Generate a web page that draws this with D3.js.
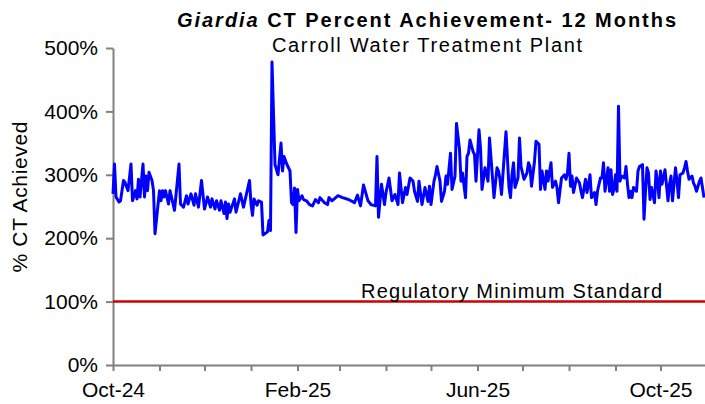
<!DOCTYPE html>
<html>
<head>
<meta charset="utf-8">
<script src="https://cdn.jsdelivr.net/npm/d3@7"></script>
<style>
  body { margin: 0; background: #fff; }
  svg { display: block; font-family: "Liberation Sans", Arial, sans-serif; }
</style>
</head>
<body>
<div id="wrapper"></div>
<script>
// Daily Giardia CT % achievement.
// dayOffsets = days after 1 Oct 2024, pctValues = % CT achieved
const startDate = new Date(2024, 9, 1)

const dayOffsets = [
  0, 1, 2, 4, 5, 7, 8, 10, 12, 13, 15, 16, 17, 18, 20, 21, 22, 23, 24, 26, 27, 28,
  31, 32, 33, 34, 35, 37, 38, 39, 41, 44, 45, 47, 49, 50, 52, 54, 55, 57, 59, 61,
  63, 65, 66, 68, 69, 71, 72, 74, 75, 76, 77, 78, 81, 82, 85, 87, 91, 92, 93, 94,
  96, 97, 99, 100, 103, 104, 105, 106, 108, 110, 112, 113, 114, 116, 118, 119, 120,
  121, 122, 123, 124, 126, 127, 129, 131, 133, 135, 137, 138, 141, 143, 144, 146,
  150, 153, 157, 161, 163, 165, 167, 170, 172, 175, 176, 177, 179, 181, 182, 184,
  186, 188, 190, 191, 193, 195, 196, 198, 200, 201, 203, 204, 206, 208, 210, 211,
  212, 214, 215, 216, 218, 219, 221, 222, 223, 225, 226, 228, 229, 231, 232, 233,
  235, 236, 237, 238, 240, 241, 242, 244, 245, 246, 248, 250, 251, 253, 254, 256,
  257, 258, 259, 262, 264, 265, 266, 267, 268, 270, 271, 272, 274, 276, 277, 278,
  279, 281, 282, 284, 285, 286, 288, 289, 290, 292, 293, 295, 296, 297, 299, 301,
  302, 303, 304, 305, 306, 307, 309, 311, 312, 313, 315, 316, 317, 318, 319, 321,
  322, 323, 324, 325, 326, 327, 328, 330, 331, 332, 333, 334, 335, 336, 337, 338,
  339, 341, 342, 343, 344, 345, 346, 347, 349, 350, 351, 353, 354, 355, 356, 357,
  358, 359, 361, 362, 363, 364, 365, 366, 368, 370, 371, 372, 373, 375, 376, 377,
  378, 380, 381, 382, 383, 384, 386, 387, 388, 389, 391, 392, 394
]

const pctValues = [
  270, 317, 265, 257, 259, 291, 288, 275, 317, 259, 275, 262, 293, 265, 317, 265, 298, 275, 304, 291, 275, 207,
  275, 259, 275, 265, 275, 254, 275, 265, 244, 317, 254, 249, 267, 254, 270, 252, 270, 249, 291, 246,
  265, 249, 262, 246, 259, 244, 259, 239, 257, 231, 254, 241, 262, 241, 270, 249, 291, 254, 236, 262,
  252, 259, 257, 205, 210, 228, 212, 478, 316, 300, 350, 306, 329, 316, 306, 256, 253,
  279, 209, 277, 259, 267, 261, 259, 253, 251, 261, 256, 264, 256, 253, 264, 259,
  267, 264, 261, 256, 268, 251, 284, 259, 253, 251, 329, 233, 285, 253, 272, 295,
  259, 269, 253, 303, 256, 280, 269, 295, 290, 274, 258, 290, 253, 280, 258, 282,
  253, 290, 300, 313, 290, 258, 274, 298, 285, 334, 277, 298, 381, 340, 290, 303,
  264, 329, 334, 355, 337, 332, 290, 371, 342, 277, 311, 290, 358, 295, 264, 311,
  306, 293, 269, 368, 280, 264, 300, 319, 280, 295, 358, 313, 293, 303, 319, 313,
  282, 321, 353, 348, 277, 306, 277, 306, 290, 319, 280, 290, 280, 256, 295, 300,
  293, 303, 334, 282, 298, 272, 295, 287, 274, 264, 293, 272, 285, 300, 264, 272,
  253, 274, 285, 295, 295, 319, 274, 311, 274, 308, 269, 277, 300, 274, 408, 290,
  298, 295, 313, 285, 264, 274, 264, 280, 274, 306, 313, 316, 230, 274, 311, 303,
  261, 280, 256, 306, 290, 264, 306, 285, 308, 259, 285, 298, 259, 311, 290, 264,
  300, 303, 311, 321, 306, 293, 298, 287, 282, 274, 290, 295, 264
]

const yTicks = [0, 100, 200, 300, 400, 500]
const xTickLabels = ['Oct-24', 'Feb-25', 'Jun-25', 'Oct-25']
const regulatoryMin = 100

const dataset = dayOffsets.map((d, i) => ({
  date: d3.timeDay.offset(startDate, d),
  pct: pctValues[i]
}))

const xAccessor = d => d.date
const yAccessor = d => d.pct

const dimensions = {
  width: 705,
  height: 404,
  left: 113,
  top: 48,
  bottom: 365
}

const wrapper = d3.select('#wrapper').append('svg')
                  .attr('width', dimensions.width)
                  .attr('height', dimensions.height)

// Scales
const xScale = d3.scaleTime()
            .domain([startDate, new Date(2025, 10, 1)])
            .range([dimensions.left, dimensions.left + 396 * 1.5])

const yScale = d3.scaleLinear()
            .domain([0, 500])
            .range([dimensions.bottom, dimensions.top])

// Axes
const fmt = d3.timeFormat('%b-%y')
const xAxisGenerator = d3.axisBottom(xScale)
            .ticks(d3.timeMonth.every(1))
            .tickSize(6)
            .tickSizeOuter(0)
            .tickPadding(11)
            .tickFormat(d => xTickLabels.includes(fmt(d)) ? fmt(d) : '')

const xAxis = wrapper.append('g')
            .attr('transform', `translate(0,${dimensions.bottom})`)
            .call(xAxisGenerator)

const yAxisGenerator = d3.axisLeft(yScale)
            .tickValues(yTicks)
            .tickFormat(d => d + '%')
            .tickSize(7)
            .tickSizeOuter(0)
            .tickPadding(8)

const yAxis = wrapper.append('g')
            .attr('transform', `translate(${dimensions.left},0)`)
            .call(yAxisGenerator)

wrapper.selectAll('.domain, .tick line')
       .attr('stroke', '#808080')
       .attr('stroke-width', 2)
wrapper.selectAll('.tick text')
       .attr('fill', '#000')
       .style('font-size', '21px')

// Regulatory line
wrapper.append('line')
       .attr('x1', dimensions.left)
       .attr('x2', dimensions.width)
       .attr('y1', yScale(regulatoryMin))
       .attr('y2', yScale(regulatoryMin))
       .attr('stroke', '#cc0000')
       .attr('stroke-width', 2.5)

wrapper.append('text')
       .attr('x', 361)
       .attr('y', yScale(regulatoryMin) - 4)
       .attr('textLength', 301)
       .attr('lengthAdjust', 'spacing')
       .style('font-size', '20px')
       .text('Regulatory Minimum Standard')

// Data line
const lineGenerator = d3.line()
            .x(d => xScale(xAccessor(d)))
            .y(d => yScale(yAccessor(d)))

wrapper.append('path')
       .datum(dataset)
       .attr('d', lineGenerator)
       .attr('fill', 'none')
       .attr('stroke', '#0000ff')
       .attr('stroke-width', 3)
       .attr('stroke-linejoin', 'round')

// Titles
const title = wrapper.append('text')
       .attr('x', 177)
       .attr('y', 27)
       .attr('textLength', 499)
       .attr('lengthAdjust', 'spacing')
       .style('font-size', '20px')
       .style('font-weight', 'bold')
title.append('tspan').style('font-style', 'italic').text('Giardia')
title.append('tspan').text(' CT Percent Achievement- 12 Months')

wrapper.append('text')
       .attr('x', 272)
       .attr('y', 52)
       .attr('textLength', 310)
       .attr('lengthAdjust', 'spacing')
       .style('font-size', '20px')
       .text('Carroll Water Treatment Plant')

wrapper.append('text')
       .attr('transform', 'translate(27,197) rotate(-90)')
       .attr('text-anchor', 'middle')
       .attr('textLength', 151)
       .attr('lengthAdjust', 'spacing')
       .style('font-size', '21px')
       .text('% CT Achieved')
</script>
</body>
</html>
